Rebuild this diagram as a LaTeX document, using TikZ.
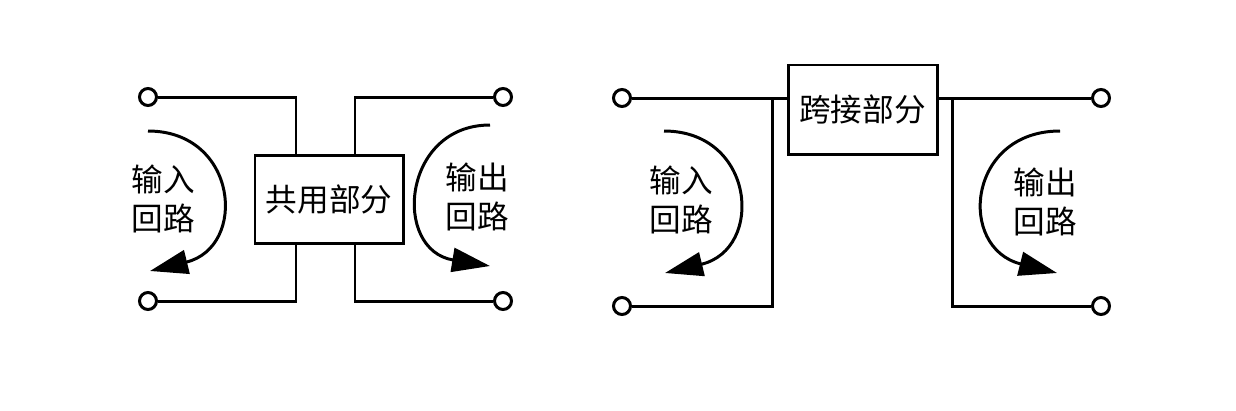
\documentclass[tikz,border=0pt]{standalone}
\usepackage{fontspec}
\newfontfamily\cjk{Noto Sans CJK SC}
\usetikzlibrary{arrows.meta,positioning}

\begin{document}
\begin{tikzpicture}[x=0.2mm,y=-0.2mm,
                    line width=1.7pt]
        \tikzstyle{term}=[circle,
                        draw=black,
                        fill=white,
                        inner sep=0pt,
                        minimum size=3.4mm]
        \tikzstyle{part}=[rectangle,
                        draw=black,
                        font=\cjk\fontsize{18}{21}\selectfont]
        \tikzstyle{lbl}=[align=center,
                        inner sep=0pt,
                        font=\cjk\fontsize{18}{22}\selectfont]
        \tikzstyle{loop}=[-{Triangle[length=7.6mm,width=4.8mm]}]

        \useasboundingbox (0,0) rectangle (1236,410);

        % left: common part
        \node[part,minimum width=29.6mm,minimum height=17.6mm] (common) at (329,199) {共用部分};
        \node[term] (lin1) at (148,97) {};
        \node[term] (lin2) at (148,301) {};
        \node[term] (lout1) at (503,97) {};
        \node[term] (lout2) at (503,301) {};
        \coordinate (lc1) at (296,155);
        \coordinate (lc2) at (355,155);
        \coordinate (lc3) at (296,243);
        \coordinate (lc4) at (355,243);

        \draw (lin1) -| (lc1);
        \draw (lout1) -| (lc2);
        \draw (lin2) -| (lc3);
        \draw (lout2) -| (lc4);

        \node[lbl] (linl) at (163,199) {输入\\回路};
        \node[lbl] (loutl) at (477,197) {输出\\回路};
        \draw[loop] (148,131) .. controls (238,131) and (248,247) .. (150,271);
        \draw[loop] (490,125) .. controls (402,125) and (392,250) .. (490,266);

        % right: bridging part
        \node[part,minimum width=29.8mm,minimum height=17.8mm] (bridge) at (862.5,109.5) {跨接部分};
        \node[term] (rin1) at (622,98) {};
        \node[term] (rin2) at (622,306) {};
        \node[term] (rout1) at (1101,98) {};
        \node[term] (rout2) at (1101,306) {};
        \coordinate (rj1) at (772,98);
        \coordinate (rj2) at (952,98);

        \draw (rin1) -- (bridge.west |- rin1);
        \draw (rout1) -- (bridge.east |- rout1);
        \draw (rj1) |- (rin2);
        \draw (rj2) |- (rout2);

        \node[lbl] (rinl) at (681,200) {输入\\回路};
        \node[lbl] (routl) at (1045,202) {输出\\回路};
        \draw[loop] (664,131) .. controls (755,131) and (765,249) .. (665,273);
        \draw[loop] (1060,131) .. controls (967,131) and (957,248) .. (1057,273);
\end{tikzpicture}
\end{document}
